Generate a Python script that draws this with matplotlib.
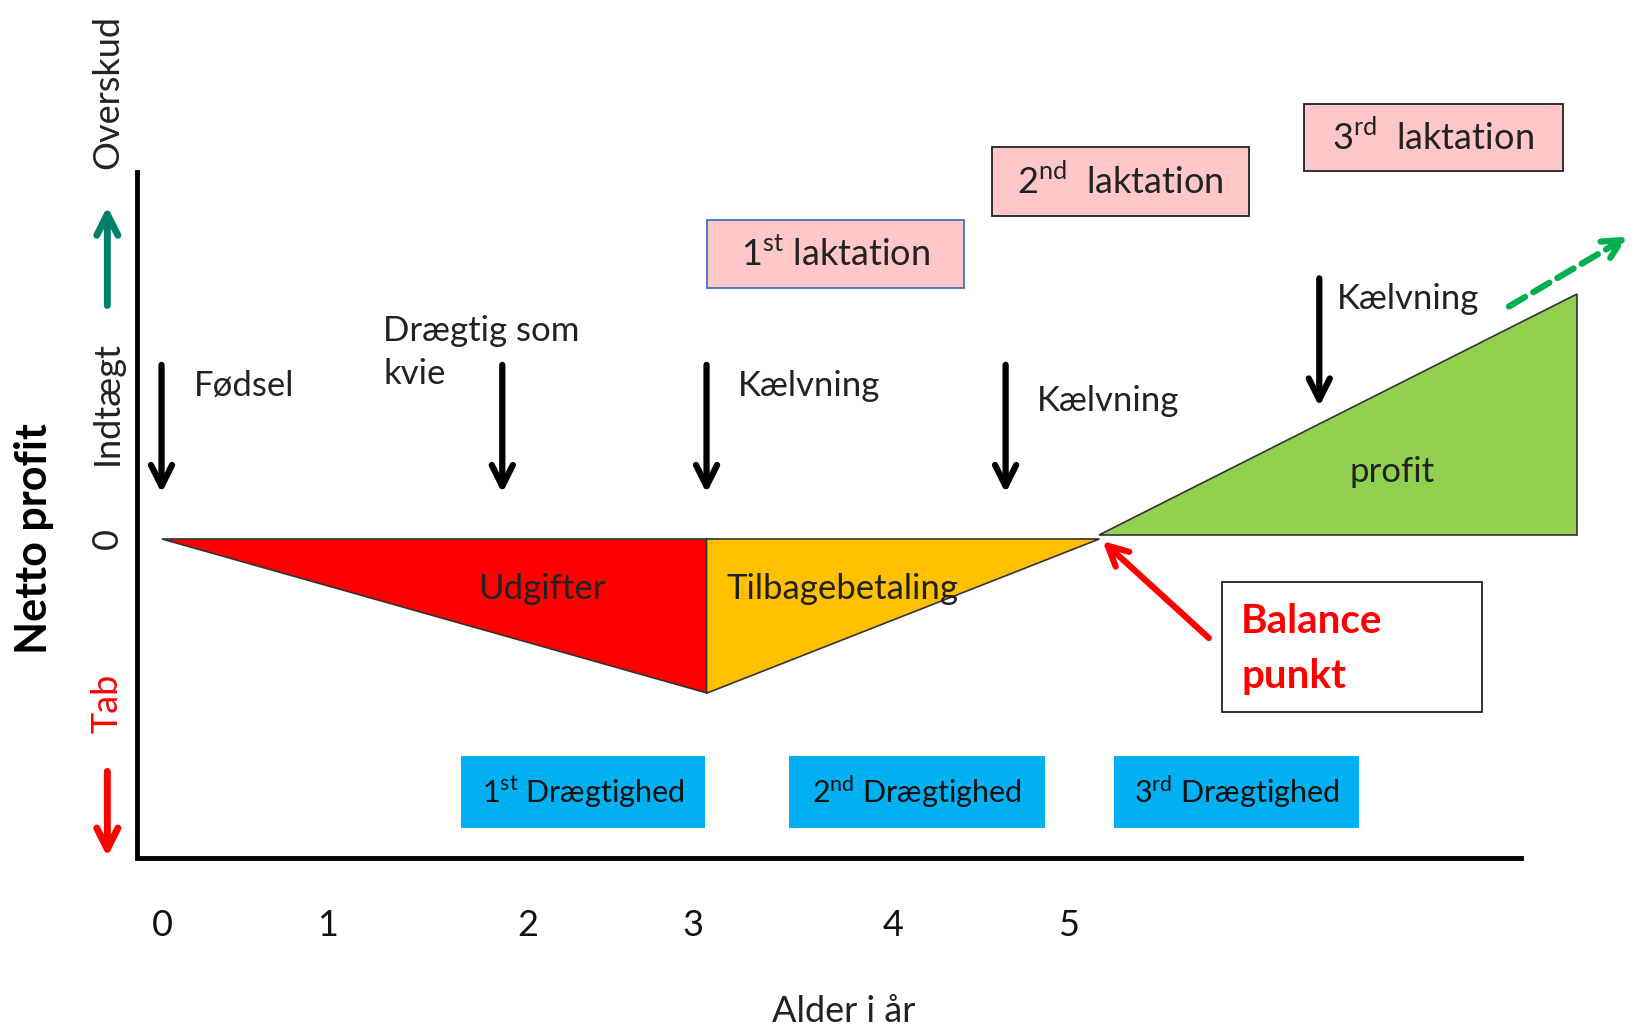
import matplotlib.pyplot as plt
from matplotlib.patches import Polygon, Rectangle

plt.rcParams['font.family'] = ['Lato', 'DejaVu Sans']
plt.rcParams['mathtext.fontset'] = 'custom'
plt.rcParams['mathtext.rm'] = 'Lato'

# age axis: tick labels and where they sit along the drawing
year_labels = ['0', '1', '2', '3', '4', '5']
year_x = [156, 314, 506, 665, 857, 1025]

# key points of the profit curve (x along drawing, y screen)
zero_y = 517
loss_x = [155, 678, 1055]          # birth, first calving, balance point
loss_depth = 665                    # lowest point at first calving
profit_x = [1055, 1513]
profit_top = 282

# event arrows (x, top, bottom) and labels
event_x = [155, 482, 678, 965, 1266]
event_top = [350, 350, 350, 350, 267]
event_bot = [473, 473, 473, 473, 390]
event_labels = ['Fødsel', 'Drægtig som\nkvie', 'Kælvning', 'Kælvning', 'Kælvning']
event_lab_xy = [(186, 370), (368, 338), (708, 370), (995, 385), (1283, 287)]

# lactation boxes (x0, y0, x1, y1)
lact_labels = [r'1$^{\mathrm{st}}$ laktation', r'2$^{\mathrm{nd}}$  laktation', r'3$^{\mathrm{rd}}$  laktation']
lact_boxes = [(678, 211, 925, 276), (952, 141, 1199, 207), (1251, 100, 1500, 164)]
lact_edges = ['#4472C4', '#222222', '#222222']

# pregnancy boxes
preg_labels = [r'1$^{\mathrm{st}}$ Drægtighed', r'2$^{\mathrm{nd}}$ Drægtighed', r'3$^{\mathrm{rd}}$ Drægtighed']
preg_boxes = [(442, 725, 677, 794), (757, 725, 1003, 794), (1069, 725, 1304, 794)]

fig = plt.figure(figsize=(16.34, 10.31), dpi=100)
ax = fig.add_axes([0, 0, 1, 1])
ax.set_xlim(0, 1568)
ax.set_ylim(989, 0)
ax.axis('off')

# axes lines
ax.plot([131, 131, 1460], [165, 823, 823], color='black', lw=3.5, solid_joinstyle='miter')

# triangles
ax.add_patch(Polygon([[loss_x[0], zero_y], [loss_x[1], zero_y], [loss_x[1], loss_depth]],
                     closed=True, fc='#FF0000', ec='#333333', lw=1.2))
ax.add_patch(Polygon([[loss_x[1], zero_y], [loss_x[2], zero_y], [loss_x[1], loss_depth]],
                     closed=True, fc='#FFC000', ec='#333333', lw=1.2))
ax.add_patch(Polygon([[profit_x[0], 513], [profit_x[1], 513], [profit_x[1], profit_top]],
                     closed=True, fc='#92D050', ec='#333333', lw=1.2))

fs = 25
ax.text(520, 565, 'Udgifter', fontsize=fs, ha='center', va='center', color='#222222')
ax.text(808, 565, 'Tilbagebetaling', fontsize=fs, ha='center', va='center', color='#222222')
ax.text(1336, 453, 'profit', fontsize=fs, ha='center', va='center', color='#222222')

# event arrows
for x, t, b in zip(event_x, event_top, event_bot):
    ax.annotate('', xy=(x, b), xytext=(x, t),
                arrowprops=dict(arrowstyle='->', lw=4.5, color='black', mutation_scale=38,
                                shrinkA=0, shrinkB=0))
for lab, (x, y) in zip(event_labels, event_lab_xy):
    ax.text(x, y, lab, fontsize=fs, ha='left', va='center', color='#222222', linespacing=1.45)

# lactation boxes
for lab, (x0, y0, x1, y1), ec in zip(lact_labels, lact_boxes, lact_edges):
    ax.add_patch(Rectangle((x0, y0), x1 - x0, y1 - y0, fc='#FFC7C7', ec=ec, lw=1.3))
    ax.text((x0 + x1) / 2, (y0 + y1) / 2, lab, fontsize=fs + 1, ha='center', va='center', color='#222222')

# pregnancy boxes
for lab, (x0, y0, x1, y1) in zip(preg_labels, preg_boxes):
    ax.add_patch(Rectangle((x0, y0), x1 - x0, y1 - y0, fc='#00B0F0', ec='none'))
    ax.text((x0 + x1) / 2, (y0 + y1) / 2, lab, fontsize=22, ha='center', va='center', color='#111111')

# balance point
ax.add_patch(Rectangle((1173, 558), 249, 125, fc='white', ec='#222222', lw=1.3))
ax.text(1191, 596, 'Balance', fontsize=29, fontweight='bold', color='#FF0000', ha='left', va='center')
ax.text(1191, 649, 'punkt', fontsize=29, fontweight='bold', color='#FF0000', ha='left', va='center')
ax.annotate('', xy=(1058, 519), xytext=(1160, 612),
            arrowprops=dict(arrowstyle='->', lw=4.5, color='#FF0000', mutation_scale=36,
                            shrinkA=0, shrinkB=0))

# dashed green trend arrow
ax.annotate('', xy=(1562, 227), xytext=(1448, 294),
            arrowprops=dict(arrowstyle='->', lw=4.5, color='#00B050', ls=(0, (3, 1.5)),
                            mutation_scale=34, shrinkA=0, shrinkB=0))

# y-axis labels
ax.text(33, 517, 'Netto profit', fontsize=31, fontweight='bold', rotation=90, ha='center', va='center')
ax.text(103, 88, 'Overskud', fontsize=fs + 1, rotation=90, ha='center', va='center', color='#222222')
ax.text(103, 387, 'Indtægt', fontsize=fs + 1, rotation=90, ha='center', va='center', color='#222222')
ax.text(103, 517, '0', fontsize=fs + 1, rotation=90, ha='center', va='center', color='#222222')
ax.text(103, 675, 'Tab', fontsize=fs + 1, rotation=90, ha='center', va='center', color='#FF0000')
ax.annotate('', xy=(103, 198), xytext=(103, 293),
            arrowprops=dict(arrowstyle='->', lw=5, color='#00806A', mutation_scale=38,
                            shrinkA=0, shrinkB=0))
ax.annotate('', xy=(103, 822), xytext=(103, 740),
            arrowprops=dict(arrowstyle='->', lw=5, color='#FF0000', mutation_scale=38,
                            shrinkA=0, shrinkB=0))

# x tick labels
for lab, x in zip(year_labels, year_x):
    ax.text(x, 888, lab, fontsize=fs + 1, ha='center', va='center', color='#111111')
ax.text(810, 970, 'Alder i år', fontsize=fs + 1, ha='center', va='center', color='#222222')

fig.savefig('out.png', dpi=100)
